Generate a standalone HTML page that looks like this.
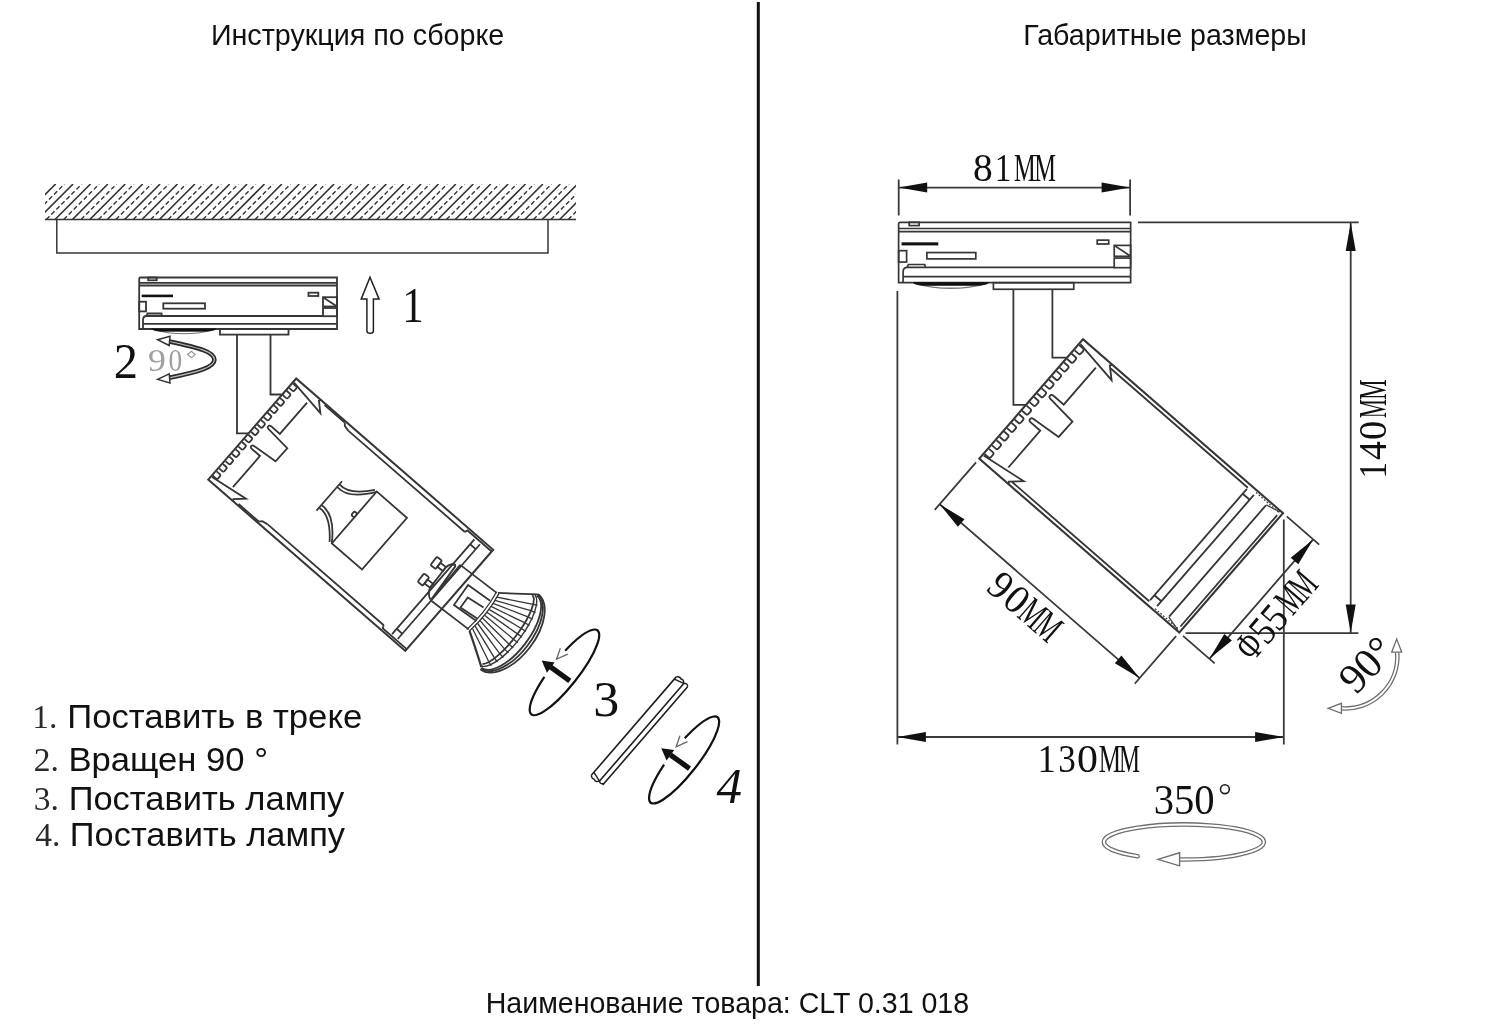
<!DOCTYPE html><html><head><meta charset="utf-8"><style>
html,body{margin:0;padding:0;background:#fff;}
body{width:1500px;height:1034px;overflow:hidden;position:relative;}
svg{position:absolute;left:0;top:0;will-change:transform;}
</style></head><body>
<svg width="1500" height="1034" viewBox="0 0 1500 1034">

<text transform="translate(210.90,45.40) scale(1.0000,1)" font-family="Liberation Sans, sans-serif" font-size="28.70" fill="#111" >Инструкция по сборке</text>
<text transform="translate(1023.31,45.40) scale(1.0000,1)" font-family="Liberation Sans, sans-serif" font-size="28.64" fill="#111" >Габаритные размеры</text>
<text transform="translate(485.71,1012.80) scale(1.0000,1)" font-family="Liberation Sans, sans-serif" font-size="28.57" fill="#111" >Наименование товара: CLT 0.31 018</text>
<rect x="756.8" y="2" width="3" height="984" fill="#111"/>
<text transform="translate(67.22,727.70) scale(1.0740,1)" font-family="Liberation Sans, sans-serif" font-size="32.30" fill="#111" >Поставить в треке</text>
<text transform="translate(32.19,727.70) scale(1.0000,1)" font-family="Liberation Serif, serif" font-size="33.50" fill="#2a2a2a" >1.</text>
<text transform="translate(68.43,770.90) scale(1.0720,1)" font-family="Liberation Sans, sans-serif" font-size="32.30" fill="#111" >Вращен 90 °</text>
<text transform="translate(33.66,770.90) scale(1.0000,1)" font-family="Liberation Serif, serif" font-size="33.50" fill="#2a2a2a" >2.</text>
<text transform="translate(68.64,809.50) scale(1.0680,1)" font-family="Liberation Sans, sans-serif" font-size="32.30" fill="#111" >Поставить лампу</text>
<text transform="translate(33.73,809.50) scale(1.0000,1)" font-family="Liberation Serif, serif" font-size="33.50" fill="#2a2a2a" >3.</text>
<text transform="translate(69.85,845.90) scale(1.0660,1)" font-family="Liberation Sans, sans-serif" font-size="32.30" fill="#111" >Поставить лампу</text>
<text transform="translate(35.13,845.90) scale(1.0000,1)" font-family="Liberation Serif, serif" font-size="33.50" fill="#2a2a2a" >4.</text>
<g fill="none" stroke="#363636" stroke-width="1.8">
<defs><clipPath id="hc"><rect x="45" y="184" width="531" height="35.5"/></clipPath></defs>
<g clip-path="url(#hc)" stroke="#333"><path d="M20.2,219.5 L55.7,184 M37.6,219.5 L73.1,184 M55.0,219.5 L90.5,184 M72.4,219.5 L107.9,184 M89.8,219.5 L125.3,184 M107.2,219.5 L142.7,184 M124.6,219.5 L160.1,184 M142.0,219.5 L177.5,184 M159.4,219.5 L194.9,184 M176.8,219.5 L212.3,184 M194.2,219.5 L229.7,184 M211.6,219.5 L247.1,184 M229.0,219.5 L264.5,184 M246.4,219.5 L281.9,184 M263.8,219.5 L299.3,184 M281.2,219.5 L316.7,184 M298.6,219.5 L334.1,184 M316.0,219.5 L351.5,184 M333.4,219.5 L368.9,184 M350.8,219.5 L386.3,184 M368.2,219.5 L403.7,184 M385.6,219.5 L421.1,184 M403.0,219.5 L438.5,184 M420.4,219.5 L455.9,184 M437.8,219.5 L473.3,184 M455.2,219.5 L490.7,184 M472.6,219.5 L508.1,184 M490.0,219.5 L525.5,184 M507.4,219.5 L542.9,184 M524.8,219.5 L560.3,184 M542.2,219.5 L577.7,184 M559.6,219.5 L595.1,184 M577.0,219.5 L612.5,184 M594.4,219.5 L629.9,184" stroke-width="1.6"/><path d="M28.9,219.5 L64.4,184 M46.3,219.5 L81.8,184 M63.7,219.5 L99.2,184 M81.1,219.5 L116.6,184 M98.5,219.5 L134.0,184 M115.9,219.5 L151.4,184 M133.3,219.5 L168.8,184 M150.7,219.5 L186.2,184 M168.1,219.5 L203.6,184 M185.5,219.5 L221.0,184 M202.9,219.5 L238.4,184 M220.3,219.5 L255.8,184 M237.7,219.5 L273.2,184 M255.1,219.5 L290.6,184 M272.5,219.5 L308.0,184 M289.9,219.5 L325.4,184 M307.3,219.5 L342.8,184 M324.7,219.5 L360.2,184 M342.1,219.5 L377.6,184 M359.5,219.5 L395.0,184 M376.9,219.5 L412.4,184 M394.3,219.5 L429.8,184 M411.7,219.5 L447.2,184 M429.1,219.5 L464.6,184 M446.5,219.5 L482.0,184 M463.9,219.5 L499.4,184 M481.3,219.5 L516.8,184 M498.7,219.5 L534.2,184 M516.1,219.5 L551.6,184 M533.5,219.5 L569.0,184 M550.9,219.5 L586.4,184 M568.3,219.5 L603.8,184 M585.7,219.5 L621.2,184" stroke-width="1.4" stroke-dasharray="4.5 2.6"/></g>
<path d="M45,219.5 H576" stroke-width="1.7"/>
<path d="M56.8,219.5 V253 H548 V219.5" stroke-width="1.5"/>
<g transform="translate(138.5,277)"><path d="M0.7,52 L0.7,2 Q0.7,0.5 2,0.5 L198.5,0.5 L198.5,52 Z" /><rect x="9.7" y="0.5" width="8.5" height="2.8" /><path d="M0.7,5.8 H198.5 M0.7,8.5 H198.5" /><rect x="3.2" y="17.6" width="31.3" height="2.6" fill="#111" stroke="none"/><rect x="0.7" y="24.7" width="6.8" height="9.7" /><rect x="24.8" y="26.3" width="41.7" height="5.4" /><path d="M8,39 L9,36.5 H23 L23.5,39" /><rect x="170" y="15.7" width="9.8" height="3.3" /><rect x="184.5" y="20.2" width="14" height="9.3" /><path d="M184.5,20.2 L198.5,29.5" /><rect x="184.5" y="31" width="14" height="8.2" /><path d="M7,39 H184.5 M4.5,52 V43 Q4.5,39 8,39 M4.5,46.8 H198.5" /><path d="M14,52.5 Q45,61 77,52.5" stroke-width="1.1" stroke="#777"/><path d="M13.2,52 Q16,54 23,54.2 H67 Q74,54 77.3,52 Z" fill="#111" stroke="#111" stroke-width="0.8"/><rect x="81.5" y="52" width="68.5" height="5.6" /></g>
<g transform="translate(897.8,221.7) scale(1.173)" stroke-width="1.45"><path d="M0.7,52 L0.7,2 Q0.7,0.5 2,0.5 L198.5,0.5 L198.5,52 Z" /><rect x="9.7" y="0.5" width="8.5" height="2.8" /><path d="M0.7,5.8 H198.5 M0.7,8.5 H198.5" /><rect x="3.2" y="17.6" width="31.3" height="2.6" fill="#111" stroke="none"/><rect x="0.7" y="24.7" width="6.8" height="9.7" /><rect x="24.8" y="26.3" width="41.7" height="5.4" /><path d="M8,39 L9,36.5 H23 L23.5,39" /><rect x="170" y="15.7" width="9.8" height="3.3" /><rect x="184.5" y="20.2" width="14" height="9.3" /><path d="M184.5,20.2 L198.5,29.5" /><rect x="184.5" y="31" width="14" height="8.2" /><path d="M7,39 H184.5 M4.5,52 V43 Q4.5,39 8,39 M4.5,46.8 H198.5" /><path d="M14,52.5 Q45,61 77,52.5" stroke-width="1.1" stroke="#777"/><path d="M13.2,52 Q16,54 23,54.2 H67 Q74,54 77.3,52 Z" fill="#111" stroke="#111" stroke-width="0.8"/><rect x="81.5" y="52" width="68.5" height="5.6" /></g>
<path d="M237,334.5 V433.3 H248 M270.5,334.5 V394.5 H281.5"/>
<path d="M1013.4,289.3 V404.8 H1026 M1052.4,289.3 V357.6 H1067"/>
<g transform="translate(296.2,378.5) rotate(41)"><path d="M0,0 L261.0,0 L261.0,134.0 L0,134.0 Z" stroke-width="2.0"/><path d="M0.8,5.9 H5.0 Q6.6,5.9 6.6,7.5 V10.1 Q6.6,11.7 5.0,11.7 H0.8 M0.8,15.6 H5.0 Q6.6,15.6 6.6,17.2 V19.8 Q6.6,21.4 5.0,21.4 H0.8 M0.8,25.3 H5.0 Q6.6,25.3 6.6,26.9 V29.5 Q6.6,31.1 5.0,31.1 H0.8 M0.8,35.0 H5.0 Q6.6,35.0 6.6,36.6 V39.2 Q6.6,40.8 5.0,40.8 H0.8 M0.8,44.7 H5.0 Q6.6,44.7 6.6,46.3 V48.9 Q6.6,50.5 5.0,50.5 H0.8 M0.8,54.4 H5.0 Q6.6,54.4 6.6,56.0 V58.6 Q6.6,60.2 5.0,60.2 H0.8 M0.8,64.1 H5.0 Q6.6,64.1 6.6,65.7 V68.3 Q6.6,69.9 5.0,69.9 H0.8 M0.8,73.8 H5.0 Q6.6,73.8 6.6,75.4 V78.0 Q6.6,79.6 5.0,79.6 H0.8 M0.8,83.5 H5.0 Q6.6,83.5 6.6,85.1 V87.7 Q6.6,89.3 5.0,89.3 H0.8 M0.8,93.2 H5.0 Q6.6,93.2 6.6,94.8 V97.4 Q6.6,99.0 5.0,99.0 H0.8 M0.8,102.9 H5.0 Q6.6,102.9 6.6,104.5 V107.1 Q6.6,108.7 5.0,108.7 H0.8 M0.8,112.6 H5.0 Q6.6,112.6 6.6,114.2 V116.8 Q6.6,118.4 5.0,118.4 H0.8 M0.8,122.3 H5.0 Q6.6,122.3 6.6,123.9 V126.5 Q6.6,128.1 5.0,128.1 H0.8" /><path d="M24,11 V52.5 H12.5 Q9.5,52.8 10.5,55.5 Q11,56.2 12,56.2 L39,58.5 L38.7,76 L12,78.6 Q10.8,78.8 10.5,80 Q10,82.2 13,82.2 H23.5 V123.5" /><path d="M1,4.5 L41,10.3 L31.7,1.8 L33,0" /><path d="M1,129.5 L41,123.7 L31.7,132.2 L33,134.0" /><path d="M38.9,1.5 H65.6 M73.8,5.2 H228 M38.9,132.5 H65.6 M73.8,128.8 H228" /><path d="M65.6,1.5 L68,4 L73.8,5.2 M65.6,132.5 L68,130.0 L73.8,128.8" /><path d="M228,5.2 L229,2.3 H261 M228,128.8 L229,131.7 H261" /><path d="M240,4.5 V130 M247.5,4.5 V130" /><path d="M240,123 H247.5 M240,11 H247.5" /><path d="M135,32.5 L175,32.5 L175,101 L135,101 Z" /><path d="M102,47.5 V86.5 M102.5,55 Q118.5,57 135,33 M102.5,51.5 Q116,53.5 132.5,32.5 M102.5,79 Q118.5,77 135,101 M102.5,82.5 Q116,80.5 132.5,101.5" /><rect x="131" y="62" width="4" height="5" rx="1.5"/></g>
<g transform="translate(482.6,611.3) rotate(37.5)"><path d="M-46,-23.2 H0 M-48,22.8 H0" /><path d="M-48,22.5 L-49,-19 Q-51,-21 -53.5,-17.5 M-46,-23.2 L-47.5,18.8" /><path d="M-56,-12 V13.5 M-56,-12 Q-55,-19 -49.5,-20.5 M-56,13.5 Q-54,20 -48.5,22.5" /><rect x="-69.5" y="-15.5" width="6.5" height="10.5" rx="1.2" /><rect x="-63" y="-12.8" width="7" height="5" /><rect x="-69.5" y="5.6" width="6.5" height="10.5" rx="1.2" /><rect x="-63" y="8.3" width="7" height="5" /><path d="M-0.5,-13 L-27.5,-12 L-26.5,12.5 L1,11.5" /><path d="M-1.5,-3.5 L-20.2,-2 L-19.8,10.5 L0.5,9" /><path d="M-0.8,-24 Q3,0 -1.5,24 M2.2,-24 Q6,0 1.5,24" stroke-width="1.3"/><path d="M1,-24 Q17,-35 33.5,-47" /><path d="M1.5,23.5 Q16,33 33,45" stroke-width="2.2"/><path d="M33.5,-47.5 A26.0,47.5 0 0 1 33.5,47.5" /><path d="M33.5,-46.5 A23.0,46.5 0 0 1 33.5,46.5" /><path d="M33.5,-45.5 A20.0,45.5 0 0 1 33.5,45.5" /><path d="M29.5,-43 A12,43 0 0 1 32,42" /><path d="M31.5,-45 A16,45 0 0 1 33,44" stroke-width="1.4"/><path d="M2.7,-19.9 L35.9,-36.4 L40.0,-38.1 M3.1,-16.3 L37.9,-29.8 L42.8,-31.2 M3.5,-12.7 L39.3,-23.2 L44.6,-24.2 M3.7,-9.0 L40.2,-16.5 L45.8,-17.3 M3.9,-5.4 L40.7,-9.9 L46.6,-10.4 M4.0,-1.8 L41.0,-3.3 L47.0,-3.5 M4.0,1.8 L41.0,3.3 L47.0,3.5 M3.9,5.4 L40.7,9.9 L46.6,10.4 M3.7,9.0 L40.2,16.5 L45.8,17.3 M3.5,12.7 L39.3,23.2 L44.6,24.2 M3.1,16.3 L37.9,29.8 L42.8,31.2 M2.7,19.9 L35.9,36.4 L40.0,38.1" stroke-width="1.3"/></g>
<g transform="translate(1083,339.3) rotate(41) scale(1.18)" stroke-width="1.55"><path d="M0,0 L224.6,0 L224.6,134.0 L0,134.0 Z" stroke-width="1.75"/><path d="M0.8,5.9 H5.0 Q6.6,5.9 6.6,7.5 V10.1 Q6.6,11.7 5.0,11.7 H0.8 M0.8,15.6 H5.0 Q6.6,15.6 6.6,17.2 V19.8 Q6.6,21.4 5.0,21.4 H0.8 M0.8,25.3 H5.0 Q6.6,25.3 6.6,26.9 V29.5 Q6.6,31.1 5.0,31.1 H0.8 M0.8,35.0 H5.0 Q6.6,35.0 6.6,36.6 V39.2 Q6.6,40.8 5.0,40.8 H0.8 M0.8,44.7 H5.0 Q6.6,44.7 6.6,46.3 V48.9 Q6.6,50.5 5.0,50.5 H0.8 M0.8,54.4 H5.0 Q6.6,54.4 6.6,56.0 V58.6 Q6.6,60.2 5.0,60.2 H0.8 M0.8,64.1 H5.0 Q6.6,64.1 6.6,65.7 V68.3 Q6.6,69.9 5.0,69.9 H0.8 M0.8,73.8 H5.0 Q6.6,73.8 6.6,75.4 V78.0 Q6.6,79.6 5.0,79.6 H0.8 M0.8,83.5 H5.0 Q6.6,83.5 6.6,85.1 V87.7 Q6.6,89.3 5.0,89.3 H0.8 M0.8,93.2 H5.0 Q6.6,93.2 6.6,94.8 V97.4 Q6.6,99.0 5.0,99.0 H0.8 M0.8,102.9 H5.0 Q6.6,102.9 6.6,104.5 V107.1 Q6.6,108.7 5.0,108.7 H0.8 M0.8,112.6 H5.0 Q6.6,112.6 6.6,114.2 V116.8 Q6.6,118.4 5.0,118.4 H0.8 M0.8,122.3 H5.0 Q6.6,122.3 6.6,123.9 V126.5 Q6.6,128.1 5.0,128.1 H0.8" /><path d="M24,11 V52.5 H12.5 Q9.5,52.8 10.5,55.5 Q11,56.2 12,56.2 L39,58.5 L38.7,76 L12,78.6 Q10.8,78.8 10.5,80 Q10,82.2 13,82.2 H23.5 V123.5" /><path d="M1,4.5 L41,10.3 L31.7,1.8 L33,0" /><path d="M1,129.5 L41,123.7 L31.7,132.2 L33,134.0" /><path d="M34,3.3 H188 M34,130.7 H188" /><path d="M195.8,1.8 H222 M195.8,132.2 H222" stroke-width="1" stroke-dasharray="1.5 1.5"/><path d="M209.3,4 L222,1 M209.3,130.0 L222,133.0" stroke-width="1"/><path d="M188.0,4.5 V129.5" /><path d="M195.8,4.5 V129.5" /><path d="M209.3,4.5 V129.5" /><path d="M222.0,4.5 V129.5" /><path d="M188,10 H195.8 M188,124.0 H195.8" /></g>
<path d="M898.7,187.6 H1130.1 M898.7,179.5 V215.5 M1130.1,179.5 V215.5" stroke-width="1.8" stroke="#3a3a3a"/>
<path d="M898.7,187.6 L927.2,182.6 L927.2,192.6 Z" fill="#111" stroke="none"/>
<path d="M1130.1,187.6 L1101.6,192.6 L1101.6,182.6 Z" fill="#111" stroke="none"/>
<path d="M1137.9,222.4 H1358.7 M1185.6,633.1 H1358.4 M1350.7,222.4 V633.1" stroke-width="1.8" stroke="#3a3a3a"/>
<path d="M1350.7,222.4 L1355.7,250.9 L1345.7,250.9 Z" fill="#111" stroke="none"/>
<path d="M1350.7,633.1 L1345.7,604.6 L1355.7,604.6 Z" fill="#111" stroke="none"/>
<path d="M897.4,737 H1283.6 M897.4,291 V744.5 M1283.8,519.6 V744.5" stroke-width="1.8" stroke="#3a3a3a"/>
<path d="M897.4,737.0 L925.9,732.0 L925.9,742.0 Z" fill="#111" stroke="none"/>
<path d="M1283.6,737.0 L1255.1,742.0 L1255.1,732.0 Z" fill="#111" stroke="none"/>
<g transform="translate(1083,339.3) rotate(41)"><path d="M0,218.5 H265 M0,163 V226 M265,163 V226" stroke-width="1.8" stroke="#3a3a3a"/><path d="M0.0,218.5 L28.5,213.5 L28.5,223.5 Z" fill="#111" stroke="none"/><path d="M265.0,218.5 L236.5,223.5 L236.5,213.5 Z" fill="#111" stroke="none"/><path d="M305,0 V158.2 M270,0 H313 M270,158.2 H312" stroke-width="1.8" stroke="#3a3a3a"/><path d="M305.0,0.0 L310.0,28.5 L300.0,28.5 Z" fill="#111" stroke="none"/><path d="M305.0,158.2 L300.0,129.7 L310.0,129.7 Z" fill="#111" stroke="none"/></g>
</g>
<g fill="#111" font-family="Liberation Serif, serif">
<g transform=""><text transform="translate(973.12,180.70) scale(0.988,1)" font-size="40.0">8</text><text transform="translate(994.72,180.70) scale(0.829,1)" font-size="40.0">1</text><text transform="translate(1013.97,180.70) scale(0.611,1)" font-size="40.0">M</text><text transform="translate(1034.27,180.70) scale(0.611,1)" font-size="40.0">M</text></g>
<g transform=""><text transform="translate(1037.51,772.30) scale(0.901,1)" font-size="40.6">1</text><text transform="translate(1058.24,772.30) scale(0.865,1)" font-size="40.6">3</text><text transform="translate(1077.12,772.30) scale(1.032,1)" font-size="40.6">0</text><text transform="translate(1098.85,772.30) scale(0.617,1)" font-size="40.6">M</text><text transform="translate(1118.89,772.30) scale(0.582,1)" font-size="40.6">M</text></g>
<g transform="translate(1386.0,475.6) rotate(-90)"><text transform="translate(-2.98,0.00) scale(0.816,1)" font-size="40.6">1</text><text transform="translate(15.54,0.00) scale(0.932,1)" font-size="40.6">4</text><text transform="translate(35.66,0.00) scale(0.950,1)" font-size="40.6">0</text><text transform="translate(57.35,0.00) scale(0.534,1)" font-size="40.6">M</text><text transform="translate(75.91,0.00) scale(0.567,1)" font-size="40.6">M</text></g>
<g transform="translate(1083,339.3) rotate(41) translate(91,253)"><text transform="translate(-1.16,0.00) scale(0.951,1)" font-size="40.6">9</text><text transform="translate(19.92,0.00) scale(0.973,1)" font-size="40.6">0</text><text transform="translate(40.27,0.00) scale(0.602,1)" font-size="40.6">M</text><text transform="translate(60.57,0.00) scale(0.602,1)" font-size="40.6">M</text></g>
<g transform="translate(1083,339.3) rotate(41) translate(340,132) rotate(-90)"><text transform="translate(-0.85,0.00) scale(0.698,1)" font-size="40.6">Φ</text><text transform="translate(20.82,0.00) scale(0.893,1)" font-size="40.6">5</text><text transform="translate(38.83,0.00) scale(0.893,1)" font-size="40.6">5</text><text transform="translate(60.28,0.00) scale(0.594,1)" font-size="40.6">M</text><text transform="translate(80.28,0.00) scale(0.594,1)" font-size="40.6">M</text></g>
<text transform="translate(1153.67,814.4) scale(0.9450,1)" font-size="43.00">350</text>
<text transform="translate(1356,695.5) rotate(-46) scale(1.0000,1)" font-size="42.00">90°</text>
<text transform="translate(402.33,322) scale(0.8600,1)" font-size="50.00">1</text>
<text transform="translate(113.66,378.2) scale(0.9700,1)" font-size="50.00">2</text>
<text transform="translate(593.20,716.3) scale(1.0400,1)" font-size="50.00">3</text>
<text transform="translate(716.50,803.2)" font-size="51" font-style="italic">4</text>
<text transform="translate(147.92,370.8) scale(1.12,1)" font-size="32" fill="#a0a0a0">9</text>
<text transform="translate(168.47,370.8) scale(0.86,1)" font-size="32" fill="#a0a0a0">0</text>
</g>
<g fill="none" stroke="#1e1e1e">
<circle cx="1224.9" cy="789.2" r="4.4" stroke-width="1.6"/>
<path d="M1179.6,859.5 A80,17.5 0 1 0 1137.6,856.3" stroke="#6e6e6e" stroke-width="4.6" stroke-linecap="round"/><path d="M1179.6,859.5 A80,17.5 0 1 0 1137.6,856.3" stroke="#fff" stroke-width="2" stroke-linecap="round"/>
<path d="M1157.9,859.3 L1179.6,852.8 L1179.6,865.8 Z" fill="#fff" stroke="#6e6e6e" stroke-width="1.4"/>
<path d="M1397.2,652.5 A52,52 0 0 1 1341.4,708.3" stroke="#6e6e6e" stroke-width="4.6"/><path d="M1397.2,652.5 A52,52 0 0 1 1341.4,708.3" stroke="#fff" stroke-width="2"/>
<path d="M1396.7,639.1 L1391.7,652.2 L1401.7,652.2 Z" fill="#fff" stroke="#6e6e6e" stroke-width="1.3"/>
<path d="M1328.1,708.3 L1341.4,703.3 L1341.4,713.3 Z" fill="#fff" stroke="#6e6e6e" stroke-width="1.3"/>
<path d="M169.3,341.5 C200,348 214.4,352 214.4,359.7 C214.4,367 200,371.5 169.3,377.8" stroke="#2a2a2a" stroke-width="4.6"/><path d="M169.3,341.5 C200,348 214.4,352 214.4,359.7 C214.4,367 200,371.5 169.3,377.8" stroke="#bbb" stroke-width="1.2"/>
<path d="M157.6,339.7 L170,336.3 L169.2,345.5 Z" fill="#fff" stroke="#333" stroke-width="1.5"/>
<path d="M157.6,379.4 L169.2,373.8 L170,383 Z" fill="#fff" stroke="#333" stroke-width="1.5"/>
<path d="M187.6,354.5 l3.8,-3.3 l3.8,3.3 l-3.8,3.3 Z" stroke="#999" stroke-width="1.2"/>
<path d="M370,277.3 L379.1,299.1 H373.4 V331 Q373.4,333.3 370.2,333.3 Q366.9,333.3 366.9,331 V299.1 H361.2 Z" stroke="#222" stroke-width="1.5"/>
<g transform="translate(564.45,672.40) rotate(-51.80)"><path d="M-15.90,-13.03 A53.50,13.65 0 1 0 17.50,-12.90" stroke-width="2.2" stroke="#111"/><path d="M16.5,-18.2 L5.6,-14.4 L16.5,-8.6" stroke="#666" stroke-width="1.3"/><path d="M-3.4,9.5 L-4.3,-14" stroke="#111" stroke-width="5.2"/><path d="M-4.7,-25.3 L-11.2,-13.5 L1.8,-13.9 Z" fill="#111" stroke="none"/></g>
<g transform="translate(684.10,760.00) rotate(-52.00)"><path d="M-15.90,-13.00 A54.20,13.60 0 1 0 17.50,-12.87" stroke-width="2.2" stroke="#111"/><path d="M16.5,-18.2 L5.6,-14.4 L16.5,-8.6" stroke="#666" stroke-width="1.3"/><path d="M-3.4,9.5 L-4.3,-14" stroke="#111" stroke-width="5.2"/><path d="M-4.7,-25.3 L-11.2,-13.5 L1.8,-13.9 Z" fill="#111" stroke="none"/></g>
<g transform="translate(591.3,775.3) rotate(-49.2)"><path d="M0,0 H130 M0,10 H130 M0,15 H130" stroke-width="1.6"/><path d="M0,0 Q-2.5,2.5 -1,5 Q-3,7.5 1,10 L4,0 M1,10 Q-1.5,12.5 2,15 M130,0 Q133,2.5 131.5,5 Q133,7.5 130,10 L127,0 M130,10 Q133,12.5 130,15" stroke-width="1.4"/></g>
</g>
</svg></body></html>
